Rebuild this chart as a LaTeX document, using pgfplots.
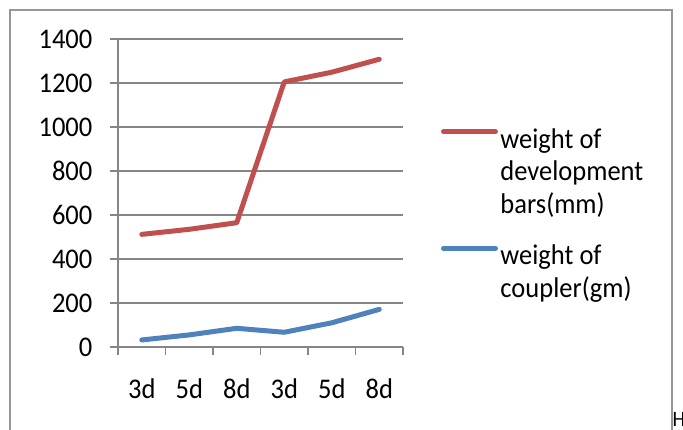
\documentclass[border=0pt]{standalone}
\usepackage{fontspec}
\setmainfont{Carlito}[FakeStretch=0.93]
\usepackage{pgfplots}
\pgfplotsset{compat=1.18}
\definecolor{redl}{RGB}{192,80,77}
\definecolor{bluel}{RGB}{79,129,189}
\definecolor{gridc}{RGB}{134,134,134}
\definecolor{framec}{RGB}{150,150,150}
\newcommand{\legtab}[1]{\begin{tabular}[t]{@{}l@{}}#1\end{tabular}}
\begin{document}
\fontsize{28.5bp}{32.5bp}\selectfont
\begin{tikzpicture}
\path[use as bounding box] (0bp,0bp) rectangle (683bp,-430bp);
\draw[framec, line width=2bp] (9.6bp,-445bp) -- (9.6bp,-10bp) -- (672bp,-10bp) -- (672bp,-445bp);
\node[anchor=north west, inner sep=0pt, font=\fontsize{22bp}{26bp}\selectfont] at (672.5bp,-412bp) {H};
\begin{axis}[
  at={(118bp,-347bp)}, anchor=south west,
  scale only axis, width=285bp, height=308bp,
  xmin=-0.5, xmax=5.5, ymin=0, ymax=1400,
  axis lines*=left,
  axis line style={gridc, line width=1.4bp},
  every tick/.style={gridc, line width=1.4bp},
  tick align=outside, major tick length=8bp,
  ytick={0,200,...,1400},
  ymajorgrids, grid style={gridc, line width=1.4bp},
  xtick={-0.5,0.5,...,5.5}, xticklabels={},
  extra x ticks={0,1,2,3,4,5},
  extra x tick labels={3d,5d,8d,3d,5d,8d},
  extra x tick style={major tick length=0pt, grid=none},
  xticklabel style={yshift=-22bp},
  yticklabel style={xshift=-8bp},
  tick label style={font=\fontsize{28.5bp}{32.5bp}\selectfont},
  /pgf/number format/assume math mode=true,
  /pgf/number format/1000 sep={},
  legend style={at={(1.1333,0.727)}, anchor=north west, draw=none, fill=none,
    inner sep=0pt, outer sep=0pt,
    font=\fontsize{28.5bp}{32.5bp}\selectfont,
    cells={anchor=base west}, row sep=84.5bp,
    nodes={inner sep=2.5bp, outer sep=0pt}},
  legend cell align=left,
  legend image code/.code={\draw[#1, line width=5bp, line cap=round] (2.5bp,7.4bp) -- (54.5bp,7.4bp);},
]
\addplot[redl, line width=5bp, line join=round, line cap=round] coordinates {(0,512) (1,535) (2,565) (3,1205) (4,1249) (5,1308)};
\addlegendentry{\legtab{weight of\\development\\bars(mm)}}
\addplot[bluel, line width=5bp, line join=round, line cap=round] coordinates {(0,32) (1,55) (2,85) (3,67) (4,110) (5,171)};
\addlegendentry{\legtab{weight of\\coupler(gm)}}
\end{axis}
\end{tikzpicture}
\end{document}
